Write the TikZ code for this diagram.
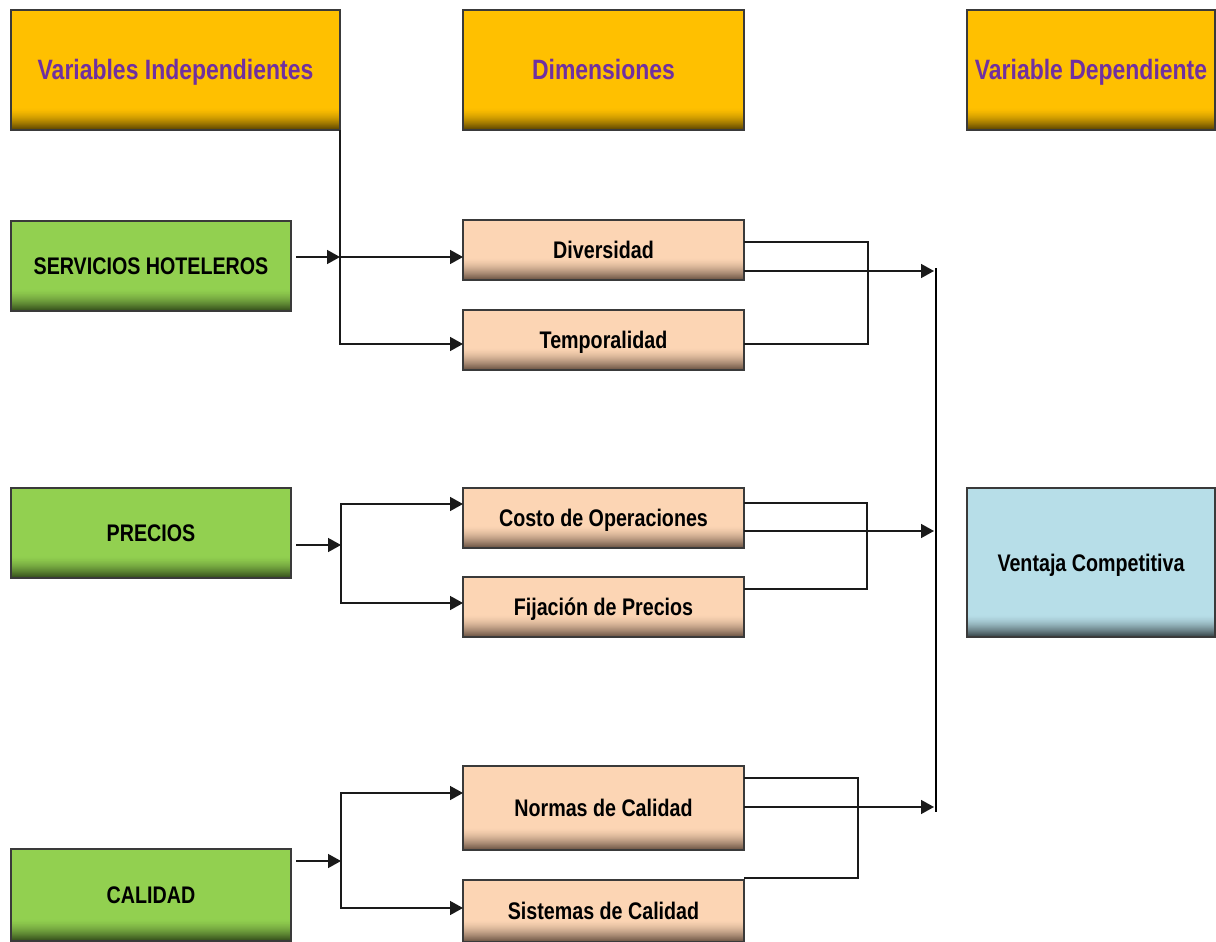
\documentclass[tikz,border=0pt]{standalone}
\usepackage{fontspec}
\setmainfont{Liberation Sans}[FakeStretch=0.82]
\usetikzlibrary{arrows.meta,calc}

\definecolor{hdrfill}{HTML}{FFC000}
\definecolor{hdrdark}{HTML}{5E4600}
\definecolor{hdrtext}{HTML}{7030A0}
\definecolor{grnfill}{HTML}{92D050}
\definecolor{grndark}{HTML}{36501C}
\definecolor{pchfill}{HTML}{FCD5B4}
\definecolor{pchdark}{HTML}{6E5646}
\definecolor{blufill}{HTML}{B7DEE8}
\definecolor{bludark}{HTML}{3A474B}
\definecolor{edge}{HTML}{3A3A3A}
\definecolor{wire}{HTML}{1A1A1A}

% bottom bevel of a box: thin bands blending from the fill colour into a dark tone
\newcommand{\bevelbands}[2]{%
  \foreach \i in {0,...,21}{%
    \pgfmathtruncatemacro{\mix}{round(100*((\i+1)/22)^1.6)}%
    \fill[#2!\mix!#1]
      ([yshift={(22-\i)*1pt}]path picture bounding box.south west)
      rectangle ([yshift={(21-\i)*1pt}]path picture bounding box.south east);
  }}

\tikzset{
  boxbase/.style 2 args={draw=edge, line width=1.2pt, fill=#1,
    inner sep=0pt, outer sep=0pt, anchor=north west, align=center,
    path picture={\bevelbands{#1}{#2}}},
  bodytext/.style={font=\bfseries\fontsize{24}{26}\selectfont,
    text=black, text height=17pt, text depth=0pt},
  hdrbox/.style={boxbase={hdrfill}{hdrdark}, text=hdrtext,
    font=\bfseries\fontsize{28}{30}\selectfont, text height=20pt, text depth=0pt},
  varbox/.style={boxbase={grnfill}{grndark}, bodytext},
  dimbox/.style={boxbase={pchfill}{pchdark}, bodytext},
  depbox/.style={boxbase={blufill}{bludark}, bodytext},
  conn/.style={draw=wire, line width=1.5pt},
  arr/.style={conn, -{Triangle[length=13pt,width=14pt]}},
  mainline/.style={draw=black, line width=2.8pt}
}

\begin{document}
\begin{tikzpicture}[x=1pt, y=-1pt]
\useasboundingbox (0,0) rectangle (1216,942);

% column headers
\node[hdrbox, minimum width=329pt, minimum height=120pt] (h1) at (11,10) {Variables Independientes};
\node[hdrbox, minimum width=281pt, minimum height=120pt] (h2) at (463,10) {Dimensiones};
\node[hdrbox, minimum width=248pt, minimum height=120pt] (h3) at (967,10) {Variable Dependiente};

% independent variables
\node[varbox, minimum width=280pt, minimum height=90pt] (serv) at (11,221) {SERVICIOS HOTELEROS};
\node[varbox, minimum width=280pt, minimum height=90pt] (prec) at (11,488) {PRECIOS};
\node[varbox, minimum width=280pt, minimum height=92pt] (cal) at (11,849) {CALIDAD};

% dimensions
\node[dimbox, minimum width=281pt, minimum height=60pt] (div) at (463,220) {Diversidad};
\node[dimbox, minimum width=281pt, minimum height=60pt] (temp) at (463,310) {Temporalidad};
\node[dimbox, minimum width=281pt, minimum height=60pt] (costo) at (463,488) {Costo de Operaciones};
\node[dimbox, minimum width=281pt, minimum height=60pt] (fij) at (463,577) {Fijación de Precios};
\node[dimbox, minimum width=281pt, minimum height=84pt] (norm) at (463,766) {Normas de Calidad};
\node[dimbox, minimum width=281pt, minimum height=62pt] (sist) at (463,880) {Sistemas de Calidad};

% dependent variable
\node[depbox, minimum width=248pt, minimum height=149pt] (vent) at (967,488) {Ventaja Competitiva};

% junctions on the left side
\coordinate (jA) at (340,257);
\coordinate (jB) at (341,545);
\coordinate (jC) at (341,861);

% SERVICIOS HOTELEROS
\draw[arr] (h1.south east) |- (temp.west |- 0,344);
\draw[arr, shorten <=5pt] (serv.east |- jA) -- (jA);
\draw[arr] (jA) -- (div.west |- jA);

% PRECIOS
\draw[arr, shorten <=5pt] (prec.east |- jB) -- (jB);
\draw[arr] (jB) |- (costo.west |- 0,504);
\draw[arr] (jB) |- (fij.west |- 0,603);

% CALIDAD
\draw[arr, shorten <=5pt] (cal.east |- jC) -- (jC);
\draw[arr] (jC) |- (norm.west |- 0,793);
\draw[arr] (jC) |- (sist.west |- 0,908);

% brackets on the right side
\coordinate (bA) at (868,344);
\coordinate (bB) at (867,589);
\coordinate (bC) at (858,878);
\draw[conn] (div.east |- 0,242) -| (bA) -- (temp.east |- bA);
\draw[conn] (costo.east |- 0,503) -| (bB) -- (fij.east |- bB);
\draw[conn] (norm.east |- 0,778) -| (bC) -- (sist.east |- bC);

% collector line
\coordinate (mtop) at (936,268);
\coordinate (mbot) at (936,812);
\coordinate (tA) at (934,271);
\coordinate (tB) at (934,531);
\coordinate (tC) at (934,807);
\draw[mainline] (mtop) -- (mbot);
\draw[arr] (div.east |- tA) -- (tA);
\draw[arr] (costo.east |- tB) -- (tB);
\draw[arr] (norm.east |- tC) -- (tC);
\end{tikzpicture}
\end{document}
